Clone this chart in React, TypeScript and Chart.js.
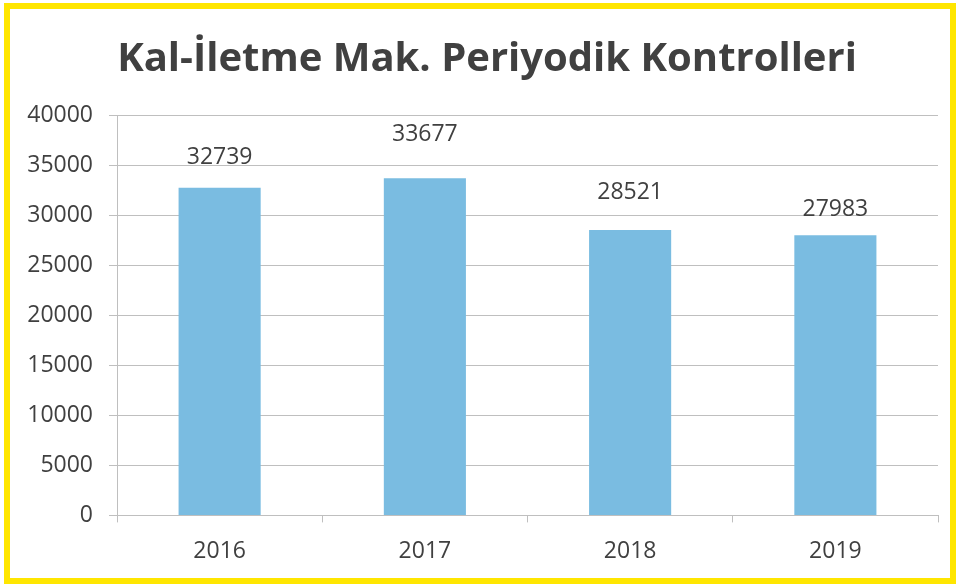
import React, { useEffect, useRef } from "react";
import { Chart, registerables } from "chart.js";

Chart.register(...registerables);

const title = "Kal-İletme Mak. Periyodik Kontrolleri";
const categories = ["2016", "2017", "2018", "2019"];
const values = [32739, 33677, 28521, 27983];
const labelOffsets = [30, 44, 37, 26];

const FONT = "'Open Sans', 'Noto Sans', sans-serif";
const TITLE_SIZE = 40;
const TITLE_PAD_TOP = 26;

const framePlugin = {
  id: "frame",
  afterDraw(chart: any) {
    const ctx = chart.ctx;
    ctx.save();
    ctx.strokeStyle = "#FFE600";
    ctx.lineWidth = 6;
    ctx.strokeRect(7, 6, 946, 575);
    ctx.restore();
  },
};

const titlePlugin = {
  id: "shiftedTitle",
  afterDraw(chart: any) {
    const ctx = chart.ctx;
    const tb = chart.titleBlock;
    const y = (tb ? tb.top : 10) + TITLE_PAD_TOP + (TITLE_SIZE * 1.2) / 2;
    ctx.save();
    ctx.font = `bold ${TITLE_SIZE}px ${FONT}`;
    ctx.fillStyle = "#404040";
    ctx.textAlign = "center";
    ctx.textBaseline = "middle";
    ctx.fillText(title, 487, y);
    ctx.restore();
  },
};

const labelPlugin = {
  id: "barLabels",
  afterDatasetsDraw(chart: any) {
    const ctx = chart.ctx;
    const meta = chart.getDatasetMeta(0);
    ctx.save();
    ctx.font = `23px ${FONT}`;
    ctx.fillStyle = "#404040";
    ctx.textAlign = "center";
    ctx.textBaseline = "middle";
    meta.data.forEach((bar: any, i: number) => {
      ctx.fillText(String(values[i]), bar.x, bar.y - labelOffsets[i]);
    });
    ctx.restore();
  },
};

export default function App() {
  const ref = useRef<HTMLCanvasElement>(null);
  useEffect(() => {
    if (!ref.current) return;
    const chart = new Chart(ref.current, {
      type: "bar",
      data: {
        labels: categories,
        datasets: [
          {
            data: values,
            backgroundColor: "#7ABCE1",
            barPercentage: 0.4,
            categoryPercentage: 1,
          },
        ],
      },
      options: {
        animation: false,
        responsive: false,
        layout: { padding: { left: 10, right: 20, top: 10, bottom: 5 } },
        plugins: {
          legend: { display: false },
          tooltip: { enabled: false },
          title: {
            display: true,
            text: title,
            color: "rgba(0,0,0,0)",
            font: { family: FONT, size: TITLE_SIZE, weight: "bold" },
            padding: { top: TITLE_PAD_TOP, bottom: 31 },
          },
        },
        scales: {
          x: {
            grid: {
              display: true,
              drawOnChartArea: false,
              drawTicks: true,
              tickLength: 7,
              color: "#BFBFBF",
              offset: true,
            },
            border: { display: true, color: "#BFBFBF" },
            ticks: { color: "#404040", font: { family: FONT, size: 23 }, padding: 15 },
          },
          y: {
            min: 0,
            max: 40000,
            afterFit(scale: any) {
              scale.width = 107;
            },
            ticks: {
              stepSize: 5000,
              color: "#404040",
              font: { family: FONT, size: 23 },
              padding: 16,
              callback: (v: any) => String(v),
            },
            grid: { color: "#BFBFBF", tickLength: 8 },
            border: { display: true, color: "#BFBFBF" },
          },
        },
      },
      plugins: [framePlugin, titlePlugin, labelPlugin],
    });
    return () => chart.destroy();
  }, []);
  return (
    <div style={{ position: "fixed", left: 0, top: 0, width: 958, height: 585, background: "#fff" }}>
      <canvas ref={ref} width={958} height={585} style={{ display: "block" }} />
    </div>
  );
}
